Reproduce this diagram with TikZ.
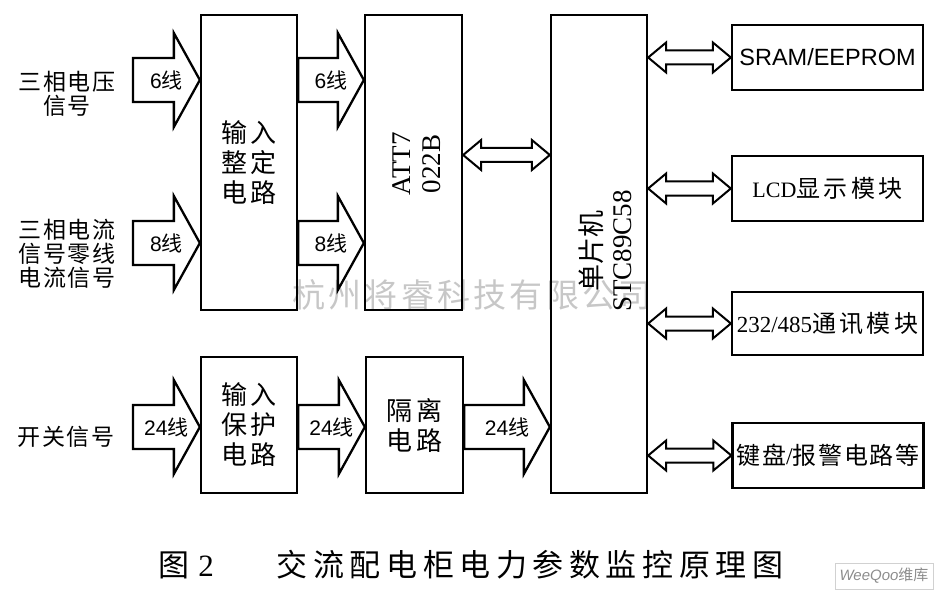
\documentclass[tikz,border=0pt]{standalone}
\usepackage{fontspec}
\setmainfont{Liberation Serif}
\newfontfamily\arial{Liberation Sans}
\newfontfamily\cjk{Noto Sans CJK SC}
\newfontfamily\cjkL[LetterSpace=8]{Noto Sans CJK SC}
\newfontfamily\cjkB[LetterSpace=12]{Noto Sans CJK SC}
\newfontfamily\cjkR[LetterSpace=14]{Noto Sans CJK SC}
\newfontfamily\cjkK[LetterSpace=7]{Noto Sans CJK SC}
\newfontfamily\cjkC[LetterSpace=18]{Noto Sans CJK SC}
\newfontfamily\cjkW[LetterSpace=10]{Noto Sans CJK SC}
\usetikzlibrary{calc}
\begin{document}
\begin{tikzpicture}[x=1pt,y=-1pt,
  box/.style={draw, line width=2.3pt, rectangle, inner sep=0pt, align=center},
  boxtxt/.style={font=\fontsize{26}{30}\selectfont\cjkB},
  rtxt/.style={font=\fontsize{24}{26}\selectfont\cjkR},
  fat/.style={draw, line width=2.3pt, line join=miter, fill=white,
    to path={($(\tikztostart)+(0,-22)$) -- ($(\tikztotarget)+(-26,-22)$)
      -- ($(\tikztotarget)+(-26,-47)$) -- (\tikztotarget)
      -- ($(\tikztotarget)+(-26,47)$) -- ($(\tikztotarget)+(-26,22)$)
      -- ($(\tikztostart)+(0,22)$) -- cycle}},
  dbl/.style={draw, line width=2pt, line join=miter, fill=white,
    to path={(\tikztostart) -- ($(\tikztostart)+(18,-15)$) -- ($(\tikztostart)+(18,-7)$)
      -- ($(\tikztotarget)+(-18,-7)$) -- ($(\tikztotarget)+(-18,-15)$) -- (\tikztotarget)
      -- ($(\tikztotarget)+(-18,15)$) -- ($(\tikztotarget)+(-18,7)$)
      -- ($(\tikztostart)+(18,7)$) -- ($(\tikztostart)+(18,15)$) -- cycle}},
  lab/.style={font=\fontsize{21}{24}\selectfont\arial, inner sep=0pt},
  side/.style={font=\fontsize{23}{24}\selectfont\cjkL, align=center, inner sep=0pt},
]
\useasboundingbox (0,0) rectangle (944,596);

% watermark
\node[font=\fontsize{33}{36}\selectfont\cjkW, text=black!22, inner sep=0pt] (wm) at (472,295) {杭州将睿科技有限公司};

% main boxes
\node[box, boxtxt, minimum width=96, minimum height=295] (zd) at (249,162.5) {输入\\整定\\电路};
\node[box, minimum width=97, minimum height=295] (att) at (413.5,162.5) {};
\node[rotate=90, align=center, font=\fontsize{27}{30}\selectfont, inner sep=0pt] (atttxt) at (417,164) {ATT7\\022B};
\node[box, minimum width=96, minimum height=478] (mcu) at (599,254) {};
\node[rotate=90, align=center, font=\fontsize{27}{30}\selectfont, inner sep=0pt] (mcutxt) at (605,251) {{\cjk 单片机}\\STC89C58};
\node[box, boxtxt, minimum width=96, minimum height=136] (bh) at (249,425) {输入\\保护\\电路};
\node[box, boxtxt, minimum width=97, minimum height=136] (gl) at (414.5,425) {隔离\\电路};

% right boxes
\node[box, minimum width=191, minimum height=65, font=\fontsize{23.5}{26}\selectfont\arial] (r1) at (827.5,57.5) {SRAM/EEPROM};
\node[box, rtxt, minimum width=191, minimum height=65] (r2) at (827.5,188.5) {{\rmfamily\fontsize{22}{26}\selectfont LCD}显示模块};
\node[box, rtxt, minimum width=191, minimum height=63] (r3) at (827.5,323.5) {{\rmfamily\fontsize{23}{26}\selectfont 232/485}通讯模块};
\node[box, font=\fontsize{24}{26}\selectfont\cjkK, minimum width=191, minimum height=65] (r4) at (828,455.5) {键盘{\rmfamily /}报警电路等};

% left labels
\node[side] (in1) at (67,94) {三相电压\\信号};
\node[side] (in2) at (67,254) {三相电流\\信号零线\\电流信号};
\node[side] (in3) at (66,437) {开关信号};

% fat arrows
\coordinate (s1) at (133,80);
\coordinate (s2) at (133,243);
\coordinate (s3) at (133,427);
\draw[fat] (s1) to (zd.west |- s1);
\node[lab] at ($(s1)!0.5!(zd.west |- s1)$) {6{\cjk 线}};
\draw[fat] (s2) to (zd.west |- s2);
\node[lab] at ($(s2)!0.5!(zd.west |- s2)$) {8{\cjk 线}};
\draw[fat] (zd.east |- s1) to (att.west |- s1);
\node[lab] at ($(zd.east |- s1)!0.5!(att.west |- s1)$) {6{\cjk 线}};
\draw[fat] (zd.east |- s2) to (att.west |- s2);
\node[lab] at ($(zd.east |- s2)!0.5!(att.west |- s2)$) {8{\cjk 线}};
\draw[fat] (s3) to (bh.west |- s3);
\node[lab] at ($(s3)!0.5!(bh.west |- s3)$) {24{\cjk 线}};
\draw[fat] (bh.east |- s3) to (gl.west |- s3);
\node[lab] at ($(bh.east |- s3)!0.5!(gl.west |- s3)$) {24{\cjk 线}};
\draw[fat] (gl.east |- s3) to (mcu.west |- s3);
\node[lab] at ($(gl.east |- s3)!0.5!(mcu.west |- s3)$) {24{\cjk 线}};

% double arrows
\draw[dbl] ($(att.east)+(0,-7.5)$) to ($(mcu.west |- att.east)+(0,-7.5)$);
\draw[dbl] (mcu.east |- r1.west) to (r1.west);
\draw[dbl] (mcu.east |- r2.west) to (r2.west);
\draw[dbl] (mcu.east |- r3.west) to (r3.west);
\draw[dbl] (mcu.east |- r4.west) to (r4.west);

% caption
\node[font=\fontsize{31}{34}\selectfont, inner sep=0pt] (cap1) at (186,565) {{\cjk 图}\hspace{9pt}2};
\node[font=\fontsize{31}{34}\selectfont\cjkC, inner sep=0pt] (cap2) at (530,565) {交流配电柜电力参数监控原理图};

% site mark
\node[draw=black!18, line width=0.6pt, minimum width=98, minimum height=26, inner sep=0pt,
  font=\fontsize{15}{16}\selectfont\arial\itshape, text=black!45] (wq) at (884,576) {WeeQoo{\upshape\cjk 维库}};
\end{tikzpicture}
\end{document}
